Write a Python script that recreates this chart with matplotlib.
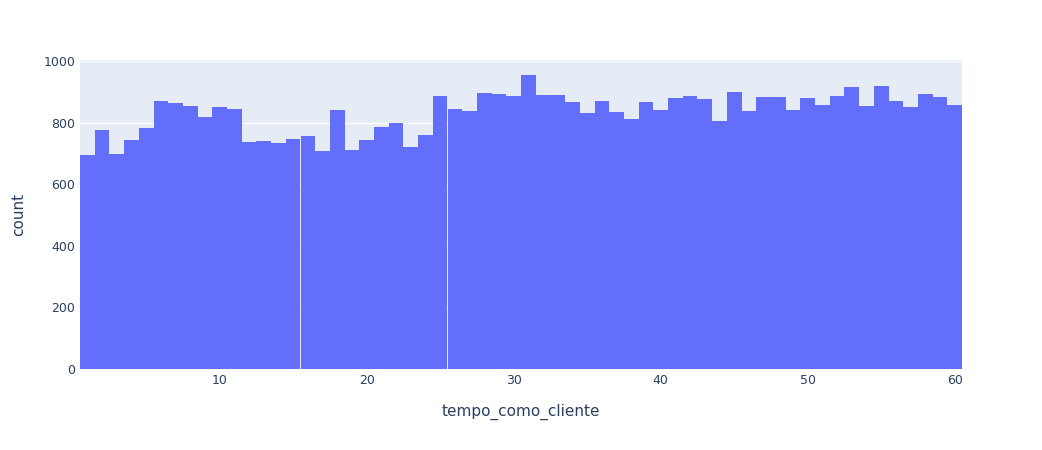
import numpy as np
import matplotlib.pyplot as plt

# tempo_como_cliente = 1..60, counts
tempo = np.arange(1, 61)
counts = [695, 775, 697, 743, 782, 870, 863, 855, 818, 851,
          845, 738, 742, 735, 748, 757, 708, 840, 711, 745,
          787, 798, 720, 760, 887, 845, 838, 897, 892, 886,
          955, 889, 889, 866, 832, 870, 835, 812, 866, 840,
          882, 886, 876, 806, 900, 838, 883, 883, 841, 880,
          858, 886, 916, 853, 920, 870, 850, 892, 883, 857]

fig = plt.figure(figsize=(10.42, 4.5), dpi=100)
ax = fig.add_axes([80/1042, 1-369/450, 882/1042, 309/450])
ax.set_facecolor("#E5ECF6")
ax.bar(tempo, counts, width=1.0, color="#636EFA", zorder=2)
ax.set_xlim(0.5, 60.5)
ax.set_ylim(0, 1004)
ax.set_xticks([10, 20, 30, 40, 50, 60])
ax.set_yticks([0, 200, 400, 600, 800, 1000])
ax.grid(axis="y", color="white", lw=1, zorder=1)
for s in ax.spines.values():
    s.set_visible(False)
ax.tick_params(length=0, colors="#2a3f5f", labelsize=9)
ax.set_xlabel("tempo_como_cliente", color="#2a3f5f", fontsize=11, labelpad=12)
ax.set_ylabel("count", color="#2a3f5f", fontsize=11, labelpad=12)
fig.savefig("out.png")
